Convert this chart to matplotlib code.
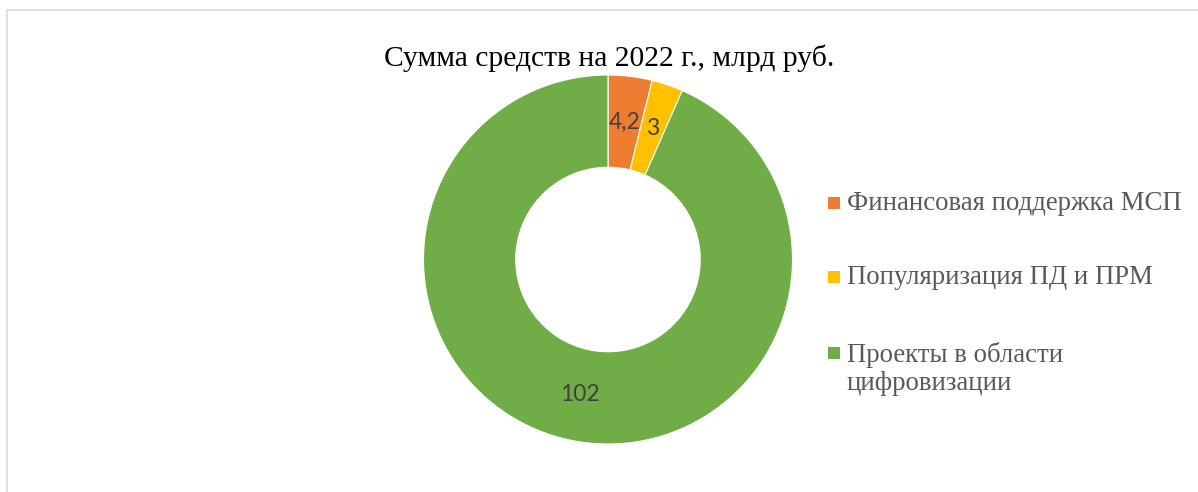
import numpy as np
import matplotlib.pyplot as plt
from matplotlib.patches import Rectangle

# данные
categories = ['Финансовая поддержка МСП', 'Популяризация ПД и ПРМ', 'Проекты в области\nцифровизации']
values = [4.2, 3, 102]
value_labels = ['4,2', '3', '102']
colors = ['#ED7D31', '#FFC000', '#70AD47']
title = 'Сумма средств на 2022 г., млрд руб.'

W, H = 1198, 492
fig = plt.figure(figsize=(W / 100, H / 100), dpi=100)

# рамка области диаграммы
fig.patches.append(Rectangle((7 / W, -0.05), 1.1, 1 - 10 / H + 0.05, transform=fig.transFigure,
                             fill=False, edgecolor='#d9d9d9', linewidth=1.2))

# кольцевая диаграмма
ax = fig.add_axes([423.5 / W, (H - 444) / H, 369 / W, 369 / H])
wedges, _ = ax.pie(values, colors=colors, startangle=90, counterclock=False,
                   wedgeprops=dict(width=0.5, edgecolor='white', linewidth=0.8))
ax.set_xlim(-1, 1)
ax.set_ylim(-1, 1)
ax.set_aspect('equal')

# подписи значений в середине кольца
total = sum(values)
cum = 0
for v, lab in zip(values, value_labels):
    mid = 90 - (cum + v / 2) / total * 360
    cum += v
    r = 0.75
    ax.text(r * np.cos(np.radians(mid)), r * np.sin(np.radians(mid)), lab,
            ha='center', va='center', fontsize=16.5, color='#404040', family='Lato')

fig.text(609 / W, 1 - 58 / H, title, ha='center', va='center',
         fontsize=21.3, family='Liberation Serif', color='black')

# легенда
leg_y = [203, 277, 353]
for lab, c, y in zip(categories, colors, leg_y):
    fig.patches.append(Rectangle((828 / W, 1 - (y + 6) / H), 12 / W, 12 / H,
                                 transform=fig.transFigure, facecolor=c, edgecolor='none'))
    ty = y + 16 if '\n' in lab else y + 1
    fig.text(847 / W, 1 - ty / H, lab, ha='left', va='center',
             fontsize=19.3, family='Liberation Serif', color='#595959', linespacing=1.15)

fig.savefig('out.png', dpi=100)
